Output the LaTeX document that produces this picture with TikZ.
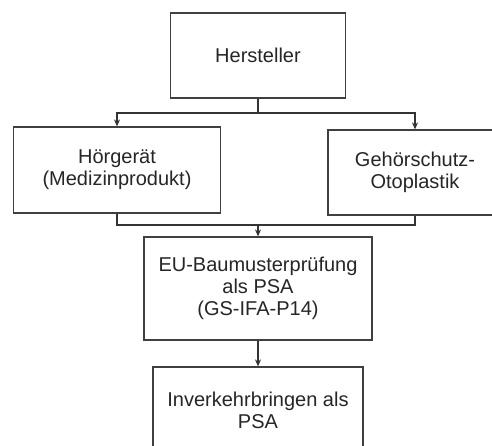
\documentclass[tikz,border=0pt]{standalone}
\usepackage{fontspec}
\setmainfont{Liberation Sans}
\usetikzlibrary{arrows.meta}
\begin{document}
\begin{tikzpicture}[x=1pt,y=-1pt,
  box/.style={draw=black!75,line width=1.2pt,rectangle,inner sep=0pt,align=center,
    font=\fontsize{20}{21.8}\selectfont,text=black!85},
  conn/.style={draw=black!80,line width=1.2pt},
  arr/.style={conn,-{Stealth[length=7pt,width=6pt]}}]
\path[use as bounding box,fill=white] (0,0) rectangle (492,446);
\clip (0,0) rectangle (492,446);
\node[box,minimum width=175pt,minimum height=85pt] (h) at (258,55.5) {Hersteller};
\node[box,minimum width=207pt,minimum height=86pt] (l) at (117,170) {Hörgerät\\(Medizinprodukt)};
\node[box,minimum width=174pt,minimum height=85pt] (r) at (415,172.5) {Gehörschutz-\\Otoplastik};
\node[box,minimum width=228pt,minimum height=103pt] (eu) at (258,288.5) {EU-Baumusterprüfung\\als PSA\\(GS-IFA-P14)};
\node[box,minimum width=210pt,minimum height=86pt] (inv) at (258,410) {Inverkehrbringen als\\PSA};
\coordinate (s) at (258,113);
\coordinate (m) at (258,225);
\draw[conn] (h.south) -- (s);
\draw[arr] (s) -| (l.north);
\draw[arr] (s) -| (r.north);
\draw[conn] (l.south) |- (m);
\draw[conn] (r.south) |- (m);
\draw[arr] (m) -- (eu.north);
\draw[arr] (eu.south) -- (inv.north);
\end{tikzpicture}
\end{document}
